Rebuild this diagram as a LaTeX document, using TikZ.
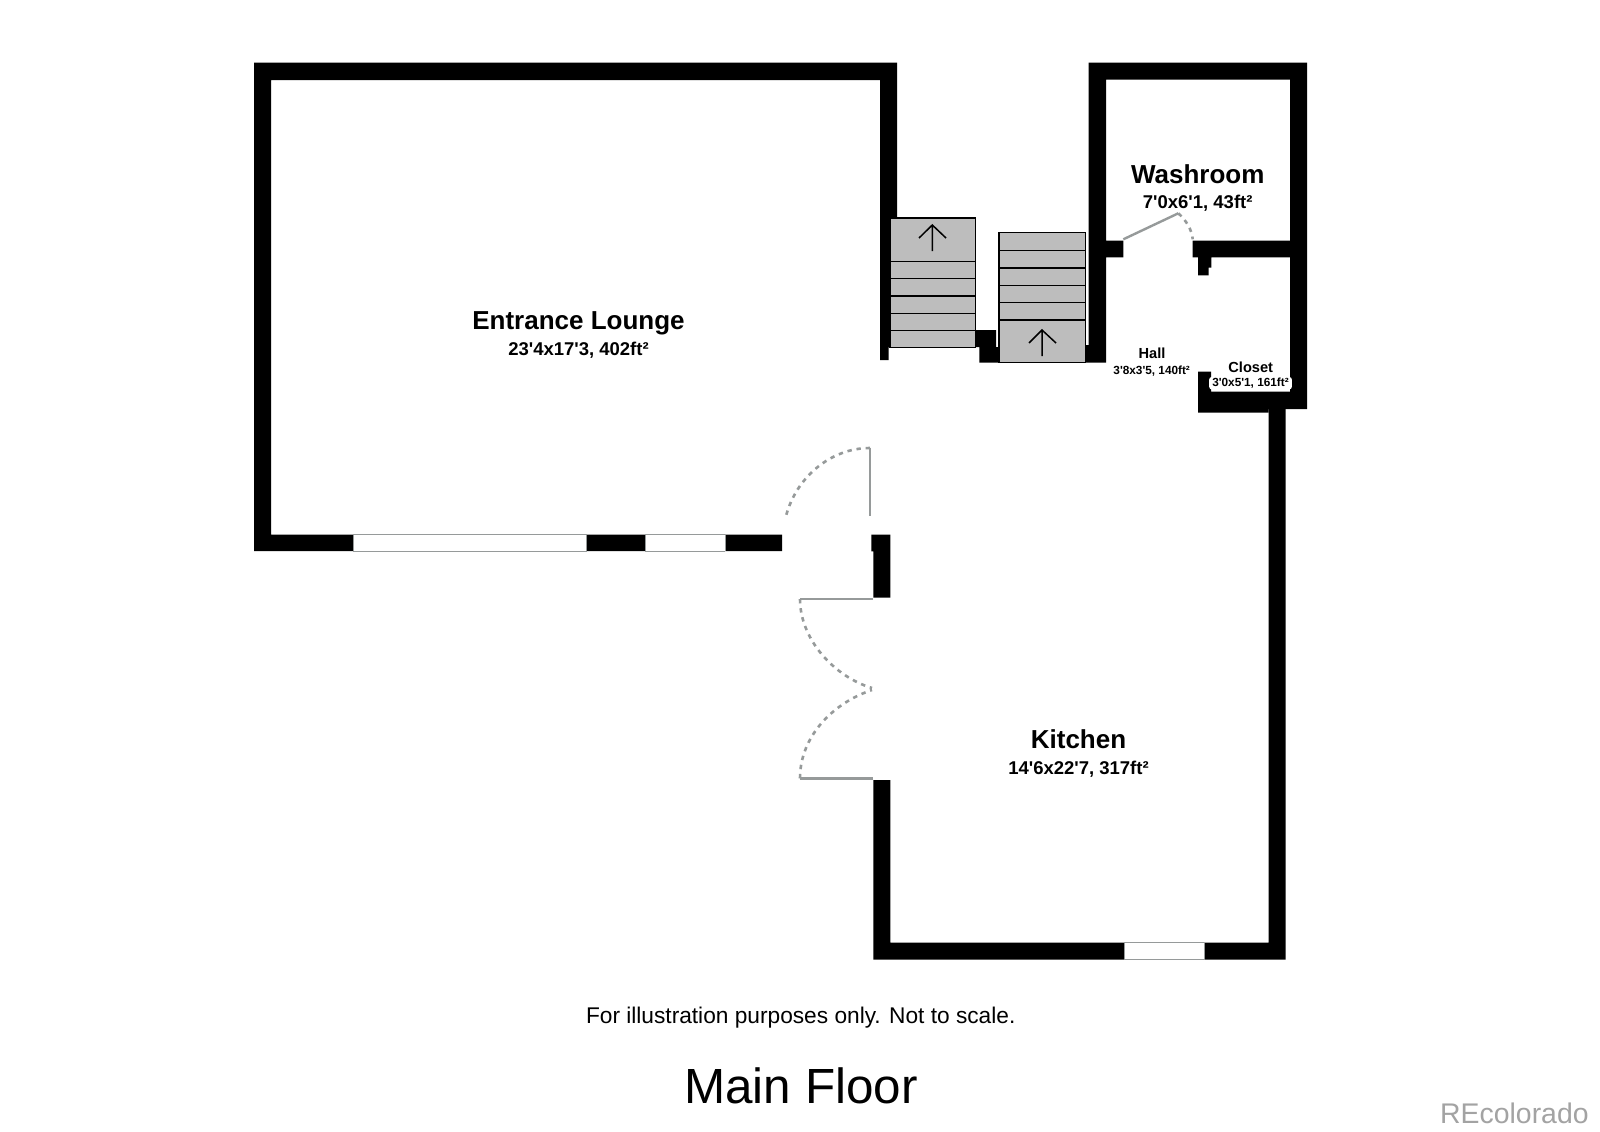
\documentclass[tikz,border=0pt]{standalone}
\usepackage{fontspec}
\setmainfont[Ligatures=TeXOff]{Liberation Sans}
\tikzset{
  wall/.style={fill=black,draw=none},
  tread/.style={draw=black,line width=0.75pt,fill=stairgray},
  doorleaf/.style={draw=doorgray,line width=1.2pt},
  doorswing/.style={draw=doorgray,line width=1.3pt,dash pattern=on 2.2pt off 2.4pt},
  windowpane/.style={fill=white,draw=none},
  windowedge/.style={draw=doorgray,line width=0.5pt},
  stairarrow/.style={draw=black,line width=0.75pt},
  title/.style={font=\bfseries\fontsize{13}{15}\selectfont,inner sep=0pt},
  sub/.style={font=\bfseries\fontsize{9.25}{11}\selectfont,inner sep=0pt},
  smalltitle/.style={font=\bfseries\fontsize{7.3}{9}\selectfont,inner sep=0pt},
  smallsub/.style={font=\bfseries\fontsize{5.9}{7}\selectfont,inner sep=0pt}
}
\definecolor{stairgray}{HTML}{BDBDBD}
\definecolor{doorgray}{HTML}{969A9A}
\definecolor{markgray}{HTML}{A3A3A3}
\begin{document}
\begin{tikzpicture}[x=0.5pt,y=-0.5pt]
\useasboundingbox (0,0) rectangle (1600,1131);
\fill[white] (0,0) rectangle (1600,1131);
% lounge walls
\path[wall] (254,551) -- (254,62.5) -- (897,62.5) -- (897,218) -- (890,218) -- (890,347) -- (888.7,347) -- (888.7,360) -- (880,360) -- (880,80) -- (271,80) -- (271,534.5) -- (782,534.5) -- (782,551) -- cycle;
% lounge windows
\path[windowpane] (353,534.5) rectangle (586.5,551);
\path[windowpane] (645,534.5) rectangle (725,551);
\draw[windowedge] (353,534.5) -- (586.5,534.5) (353,551) -- (586.5,551) (353,534.5) -- (353,551) (586.5,534.5) -- (586.5,551);
\draw[windowedge] (645,534.5) -- (725,534.5) (645,551) -- (725,551) (645,534.5) -- (645,551) (725,534.5) -- (725,551);
% stair 1
\path[tread] (890,218) rectangle (975.7,347.5);
\draw[tread] (890,261.3) -- (975.7,261.3) (890,278.7) -- (975.7,278.7) (890,296) -- (975.7,296) (890,313.3) -- (975.7,313.3) (890,330.7) -- (975.7,330.7);
\draw[stairarrow] (932.3,251) -- (932.3,225) (919,238) -- (932.3,225) -- (946,238);
% block between stairs
\path[wall] (975.7,330) -- (996,330) -- (996,347) -- (999,347) -- (999,362.7) -- (979.3,362.7) -- (979.3,347) -- (975.7,347) -- cycle;
% stair 2
\path[tread] (999,232.7) rectangle (1085.7,362.7);
\draw[tread] (999,250.7) -- (1085.7,250.7) (999,268) -- (1085.7,268) (999,285.3) -- (1085.7,285.3) (999,302.7) -- (1085.7,302.7) (999,320) -- (1085.7,320);
\draw[stairarrow] (1042,356) -- (1042,330) (1029,343) -- (1042,330) -- (1056,343);
% washroom, hall and closet walls
\path[wall] (1088.7,345) -- (1088.7,62.5) -- (1307,62.5) -- (1307,409) -- (1268.7,409) -- (1268.7,412.7) -- (1198,412.7) -- (1198,371.7) -- (1211,371.7) -- (1211,391.7) -- (1290,391.7) -- (1290,257.3) -- (1211.3,257.3) -- (1211.3,267.7) -- (1208.7,267.7) -- (1208.7,275.3) -- (1198,275.3) -- (1198,257.3) -- (1192.7,257.3) -- (1192.7,240.7) -- (1290,240.7) -- (1290,79.5) -- (1106,79.5) -- (1106,240.7) -- (1123.3,240.7) -- (1123.3,257.3) -- (1106,257.3) -- (1106,362.7) -- (1085.7,362.7) -- (1085.7,345) -- cycle;
% kitchen walls
\path[wall] (1268.7,405) -- (1285.7,405) -- (1285.7,959.5) -- (873.3,959.5) -- (873.3,780) -- (890.3,780) -- (890.3,942.5) -- (1268.7,942.5) -- cycle;
\path[wall] (871.3,534.7) -- (890.3,534.7) -- (890.3,597.7) -- (873.3,597.7) -- (873.3,551.3) -- (871.3,551.3) -- cycle;
% kitchen window
\path[windowpane] (1124,942.5) rectangle (1204,959.5);
\draw[windowedge] (1124,942.5) -- (1204,942.5) (1124,959.5) -- (1204,959.5) (1124,942.5) -- (1124,959.5) (1204,942.5) -- (1204,959.5);
% doors
\draw[doorleaf] (870,448) -- (870,516);
\draw[doorswing] (870,448) .. controls (830,448) and (796,478) .. (786,516);
\draw[doorleaf] (873,599) -- (800,599);
\draw[doorswing] (800,599) .. controls (800,640) and (835,677) .. (872,688);
\draw[doorleaf] (873,778.3) -- (800,778.3);
\draw[doorswing] (800,778.3) .. controls (800,735) and (835,702) .. (872,690);
\draw[doorleaf] (1123.3,239.3) -- (1178.3,213.3);
\draw[doorswing] (1178.3,213.3) .. controls (1186,220) and (1192,230) .. (1192.7,239.3);
% labels
\node[title] (lounge) at (578.5,323) {Entrance Lounge};
\node[sub] (loungesize) at (578.5,350.5) {23'4x17'3, 402ft²};
\node[title] (kitchen) at (1078.5,739) {Kitchen};
\node[sub] (kitchensize) at (1078.5,769) {14'6x22'7, 317ft²};
\node[title] (washroom) at (1197.7,174) {Washroom};
\node[sub] (washroomsize) at (1197.7,203.5) {7'0x6'1, 43ft²};
\node[smalltitle] (hall) at (1152,353) {Hall};
\node[smallsub] (hallsize) at (1151.7,371.4) {3'8x3'5, 140ft²};
\node[smalltitle] (closet) at (1250.7,367) {Closet};
\node[smallsub,fill=white,rounded corners=1.5pt,inner xsep=1.6pt,inner ysep=0.6pt] (closetsize) at (1250.5,383.2) {3'0x5'1, 161ft²};
\node[font=\fontsize{11.35}{13}\selectfont,inner sep=0pt] (note) at (800.7,1018) {For illustration purposes only. Not to scale.};
\node[font=\fontsize{24.7}{29}\selectfont,inner sep=0pt] (floorname) at (801,1086) {Main Floor};
\node[font=\fontsize{14.2}{17}\selectfont,text=markgray,inner sep=0pt,anchor=east] (mark) at (1589,1113) {REcolorado};
\end{tikzpicture}
\end{document}
